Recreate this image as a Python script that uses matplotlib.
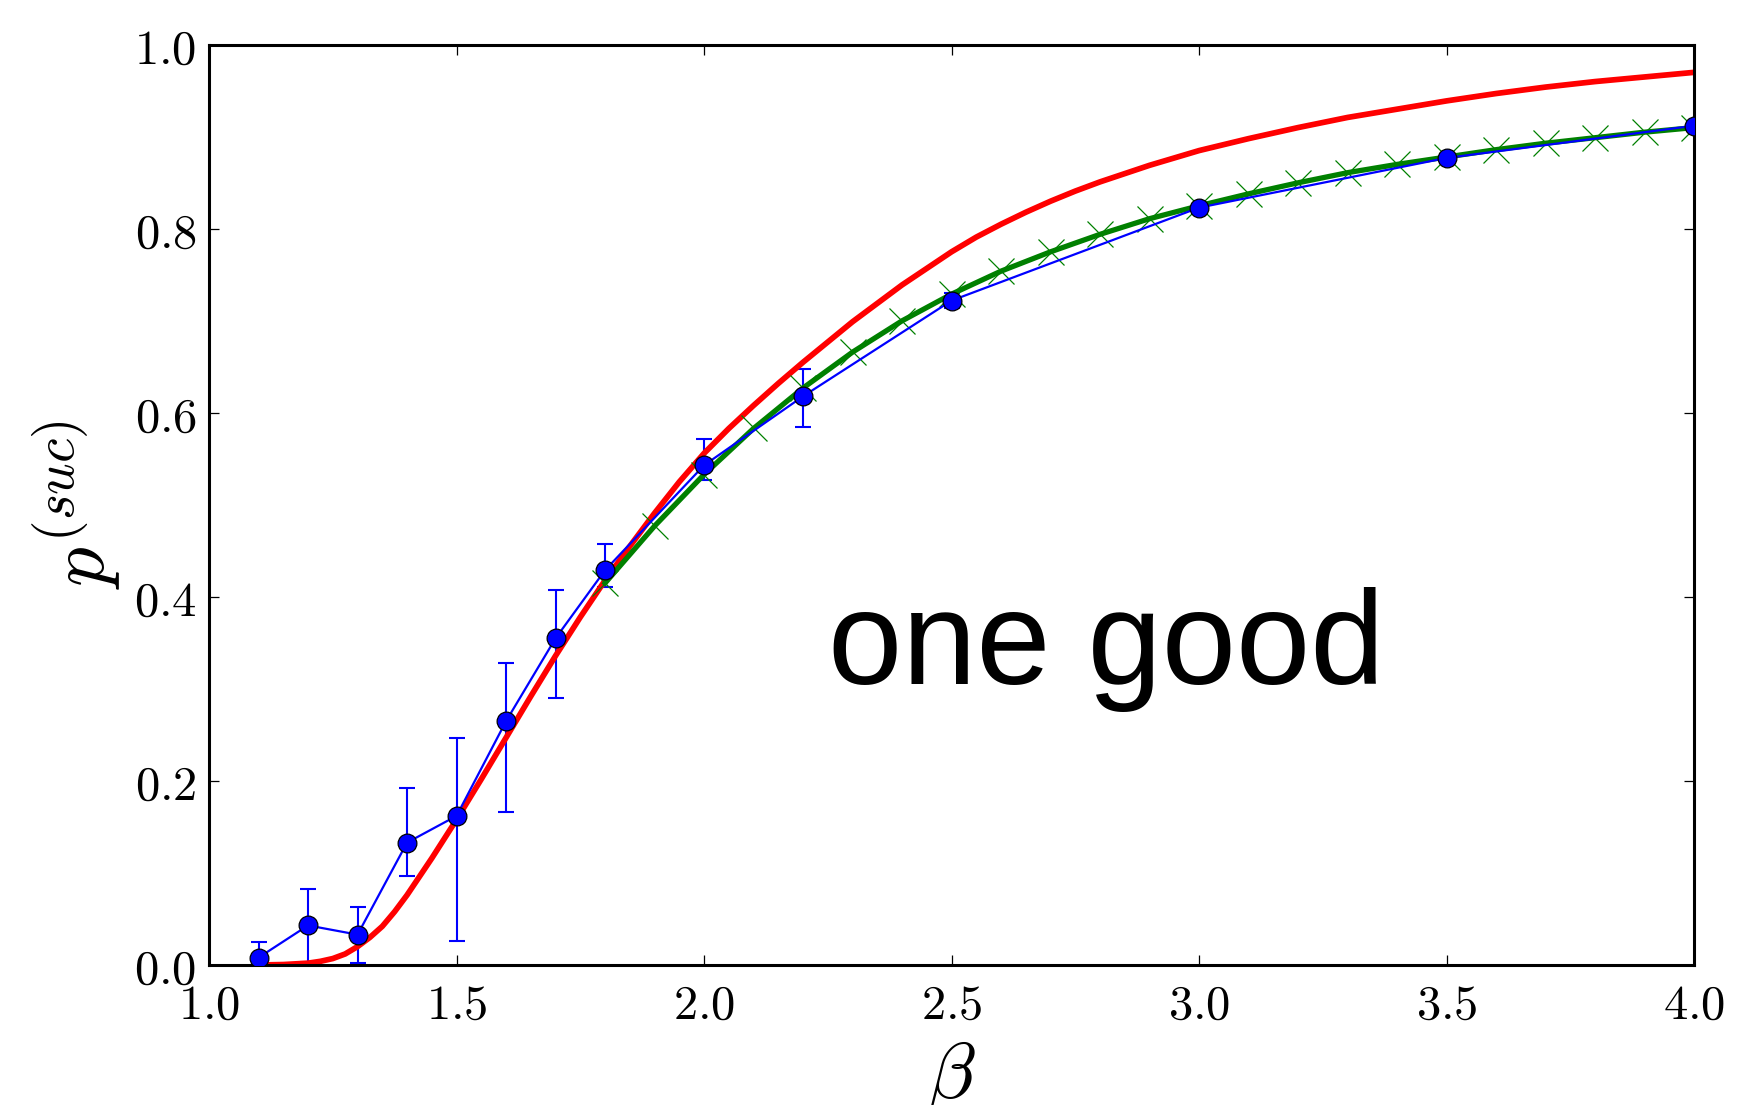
import matplotlib
matplotlib.use('Agg')
import matplotlib.pyplot as plt
from matplotlib.ticker import FuncFormatter

# simulation points (blue) with asymmetric error bounds
beta_sim = [1.1, 1.2, 1.3, 1.4, 1.5, 1.6, 1.7, 1.8, 2.0, 2.2, 2.5, 3.0, 3.5, 4.0]
p_sim = [0.008, 0.043, 0.033, 0.133, 0.162, 0.265, 0.355, 0.429, 0.543, 0.618,
         0.722, 0.823, 0.877, 0.912]
p_low = [-0.009, 0.003, 0.0025, 0.097, 0.026, 0.166, 0.290, 0.411, 0.527, 0.585,
         0.714, 0.819, 0.873, 0.908]
p_high = [0.025, 0.083, 0.063, 0.192, 0.247, 0.328, 0.408, 0.457, 0.572, 0.648,
          0.730, 0.827, 0.881, 0.916]

# theory curve (red)
beta_th = [1.100, 1.150, 1.200, 1.225, 1.250, 1.275, 1.300, 1.325, 1.350, 1.375,
           1.400, 1.425, 1.450, 1.475, 1.500, 1.550, 1.600, 1.650, 1.700, 1.750,
           1.800, 1.850, 1.900, 1.950, 2.000, 2.050, 2.100, 2.150, 2.200, 2.250,
           2.300, 2.350, 2.400, 2.450, 2.500, 2.550, 2.600, 2.650, 2.700, 2.750,
           2.800, 2.850, 2.900, 2.950, 3.000, 3.100, 3.200, 3.300, 3.400, 3.500,
           3.600, 3.700, 3.800, 3.900, 4.000]
p_th = [0.000, 0.0005, 0.002, 0.004, 0.007, 0.012, 0.020, 0.030, 0.042, 0.058,
        0.076, 0.096, 0.116, 0.137, 0.158, 0.202, 0.247, 0.292, 0.336, 0.378,
        0.418, 0.455, 0.491, 0.525, 0.556, 0.583, 0.608, 0.632, 0.655, 0.677,
        0.699, 0.719, 0.739, 0.757, 0.775, 0.791, 0.805, 0.818, 0.830, 0.841,
        0.851, 0.860, 0.869, 0.877, 0.885, 0.898, 0.910, 0.921, 0.930, 0.939,
        0.947, 0.954, 0.960, 0.965, 0.970]

# approximation (green)
beta_ap = [1.8, 1.9, 2.0, 2.1, 2.2, 2.3, 2.4, 2.5, 2.6, 2.7, 2.8, 2.9, 3.0,
           3.1, 3.2, 3.3, 3.4, 3.5, 3.6, 3.7, 3.8, 3.9, 4.0]
p_ap = [0.415, 0.477, 0.533, 0.583, 0.627, 0.666, 0.700, 0.729, 0.754, 0.775,
        0.794, 0.811, 0.825, 0.838, 0.850, 0.861, 0.870, 0.878, 0.886, 0.893,
        0.899, 0.905, 0.910]

plt.rcParams['mathtext.fontset'] = 'cm'

fig = plt.figure(figsize=(17.42, 11.05), dpi=100)
ax = fig.add_axes([0.12, 0.1267, 0.8525, 0.8328])

yerr = [[p - lo for p, lo in zip(p_sim, p_low)],
        [hi - p for p, hi in zip(p_sim, p_high)]]
ax.errorbar(beta_sim, p_sim, yerr=yerr, fmt='none', ecolor='b', elinewidth=1.5,
            capsize=5.5, capthick=1.5, zorder=1.5)
ax.plot(beta_th, p_th, '-', color='r', linewidth=4.1, zorder=2,
        solid_joinstyle='round')
ax.plot(beta_ap, p_ap, '-', color='g', linewidth=3.8, marker='x', markersize=19,
        markeredgewidth=0.9, zorder=2.2, solid_joinstyle='round')
ax.plot(beta_sim, p_sim, '-', color='b', linewidth=1.6, marker='o', markersize=13.5,
        markerfacecolor='b', markeredgecolor='k', markeredgewidth=0.9, zorder=3)

ax.text(2.25, 0.305, 'one good', family=['Liberation Sans'], fontsize=96,
        ha='left', va='baseline')

ax.set_xlim(1.0, 4.0)
ax.set_ylim(0.0, 1.0)
ax.set_xticks([1.0, 1.5, 2.0, 2.5, 3.0, 3.5, 4.0])
ax.set_yticks([0.0, 0.2, 0.4, 0.6, 0.8, 1.0])
fmt = FuncFormatter(lambda v, pos: r'$%.1f$' % v)
ax.xaxis.set_major_formatter(fmt)
ax.yaxis.set_major_formatter(fmt)
ax.tick_params(direction='in', length=7, width=0.9, top=True, right=True,
               labelsize=35)
ax.tick_params(axis='x', pad=11)
ax.tick_params(axis='y', pad=9)
for s in ax.spines.values():
    s.set_linewidth(2.2)

ax.set_xlabel(r'$\beta$', fontsize=57)
ax.set_ylabel(r'$p^{(suc)}$', fontsize=57)
ax.xaxis.set_label_coords(0.5, -0.08)
ax.yaxis.set_label_coords(-0.058, 0.5)

plt.savefig('out.png', dpi=100)
